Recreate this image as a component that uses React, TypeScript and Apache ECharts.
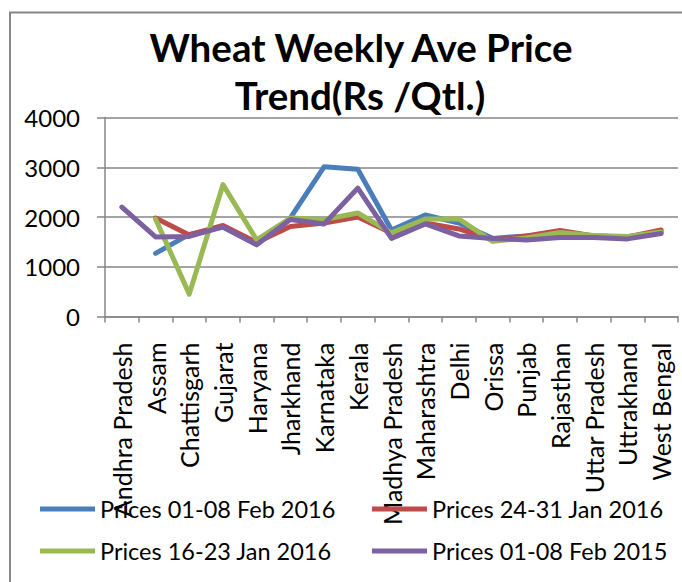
import React, { useEffect, useRef } from "react";
import * as echarts from "echarts";

const categories = [
  "Andhra Pradesh", "Assam", "Chattisgarh", "Gujarat", "Haryana", "Jharkhand",
  "Karnataka", "Kerala", "Madhya Pradesh", "Maharashtra", "Delhi", "Orissa",
  "Punjab", "Rajasthan", "Uttar Pradesh", "Uttrakhand", "West Bengal",
];

const seriesNames = [
  "Prices 01-08 Feb 2016",
  "Prices 24-31 Jan 2016",
  "Prices 16-23 Jan 2016",
  "Prices 01-08 Feb 2015",
];

const feb2016 = [null, 1270, 1650, 1800, 1450, 1980, 3010, 2960, 1740, 2040, 1880, 1570, 1620, 1650, 1620, 1600, 1700];
const jan24_2016 = [null, 1980, 1640, 1830, 1490, 1810, 1880, 2000, 1680, 1880, 1760, 1540, 1620, 1730, 1620, 1600, 1740];
const jan16_2016 = [null, 1960, 450, 2650, 1540, 1980, 1950, 2080, 1680, 1960, 1960, 1510, 1580, 1690, 1630, 1610, 1700];
const feb2015 = [2200, 1600, 1610, 1800, 1440, 1950, 1860, 2580, 1570, 1860, 1620, 1570, 1540, 1590, 1590, 1560, 1670];

const colors = ["#4A7EBB", "#BE4B48", "#98B954", "#7D60A0"];
const yTicks = [0, 1000, 2000, 3000, 4000];

const FONT = "Lato";

export default function App() {
  const ref = useRef<HTMLDivElement>(null);
  useEffect(() => {
    const chart = echarts.init(ref.current!, null, { renderer: "svg" });
    const values = [feb2016, jan24_2016, jan16_2016, feb2015];
    const legendText = { fontSize: 23.5, fontFamily: FONT, color: "#000", lineHeight: 24 };
    chart.setOption({
      animation: false,
      backgroundColor: "#ffffff",
      textStyle: { fontFamily: FONT },
      graphic: [
        {
          type: "rect",
          shape: { x: 10, y: 12.5, width: 720, height: 620 },
          style: { fill: "none", stroke: "#868686", lineWidth: 2 },
          z: 0,
        },
        {
          type: "text",
          x: 361,
          y: 66,
          style: {
            text: "Wheat Weekly Ave Price",
            font: `bold 38.5px ${FONT}`,
            fill: "#000",
            textAlign: "center",
            textVerticalAlign: "bottom",
          },
        },
        {
          type: "text",
          x: 360,
          y: 114,
          style: {
            text: "Trend(Rs /Qtl.)",
            font: `bold 38.5px ${FONT}`,
            fill: "#000",
            textAlign: "center",
            textVerticalAlign: "bottom",
          },
        },
      ],
      grid: { left: 105, top: 117.5, right: 4, height: 199, containLabel: false },
      legend: [
        {
          data: [seriesNames[0], seriesNames[2]],
          orient: "vertical",
          left: 35,
          top: 492,
          icon: "rect",
          itemWidth: 55,
          itemHeight: 5,
          itemGap: 18,
          textStyle: legendText,
        },
        {
          data: [seriesNames[1], seriesNames[3]],
          orient: "vertical",
          left: 367,
          top: 492,
          icon: "rect",
          itemWidth: 55,
          itemHeight: 5,
          itemGap: 18,
          textStyle: legendText,
        },
      ],
      xAxis: {
        type: "category",
        data: categories,
        boundaryGap: true,
        axisLine: { show: true, lineStyle: { color: "#868686", width: 1.5 } },
        axisTick: { show: true, length: 6, lineStyle: { color: "#868686", width: 1.5 } },
        axisLabel: {
          interval: 0,
          rotate: 90,
          margin: 26,
          fontSize: 25,
          fontFamily: FONT,
          color: "#000",
        },
        splitLine: { show: false },
      },
      yAxis: {
        type: "value",
        min: yTicks[0],
        max: yTicks[yTicks.length - 1],
        interval: 1000,
        axisLine: { show: true, lineStyle: { color: "#868686", width: 1.5 } },
        axisTick: { show: true, length: 8, lineStyle: { color: "#868686", width: 1.5 } },
        axisLabel: {
          margin: 25,
          fontSize: 24,
          fontFamily: FONT,
          color: "#000",
          formatter: (v: number) => String(v),
        },
        splitLine: { show: true, lineStyle: { color: "#868686", width: 1.5 } },
      },
      series: values.map((d, i) => ({
        name: seriesNames[i],
        type: "line",
        data: d,
        symbol: "none",
        color: colors[i],
        lineStyle: { width: 5, color: colors[i], join: "round", cap: "round" },
        z: 2 + i,
      })),
    });
    return () => chart.dispose();
  }, []);
  return <div ref={ref} style={{ width: 682, height: 582, position: "absolute", left: 0, top: 0 }} />;
}
